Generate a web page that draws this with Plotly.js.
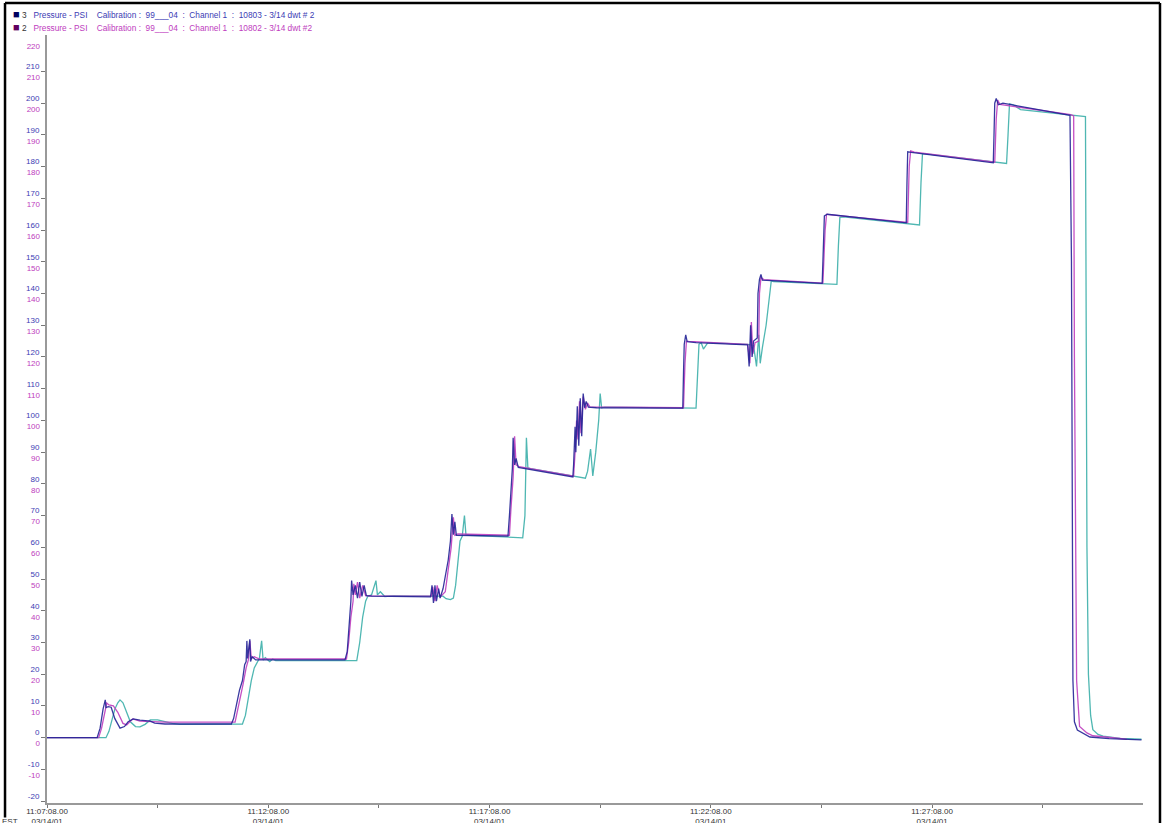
<!DOCTYPE html>
<html><head><meta charset="utf-8">
<script src="https://cdn.plot.ly/plotly-3.0.1.min.js"></script>
<style>html,body{margin:0;padding:0;background:#fff;overflow:hidden}#chart{width:1162px;height:823px;}</style>
</head><body><div id="chart"></div>
<script>
// elapsed seconds from 11:07:08 on 03/14/01, and pressure (PSI)
const navySec = [0,68,72,76,79,80,83,87,92,99,105,110,117,126,140,146,160,250,253,257,261,265,268,270,271,272,274,275,276,278,283,404,407,410,412,413,415,418,421,424,427,430,433,440,520,522,524,526,528,531,533,537,540,544,547,549,551,553,555,625,627,629,631,632,634,636,639,713,714,716,717,719,721,723,725,727,729,731,734,745,862,863,864,866,868,880,950,952,954,956,958,963,964,966,968,970,1051,1052,1054,1058,1165,1166,1167,1172,1283,1284,1285,1287,1290,1296,1387,1389,1390,1391,1393,1397,1414,1440,1484];
const navyVal = [0,0,3,9,11.9,9.5,9.8,9.6,6,3,3.5,5,5.9,5.5,5.2,4.6,4.3,4.3,6,11,15,18,23,24,30.5,25,28,31,24,25.5,24.5,24.5,27,36,43,49.5,45,48,44,49,44.5,48,44.8,44.6,44.4,48,42.5,48,43,47,44,47,51,56,62,70.5,64,68,63.8,63.5,70,78,85,94.5,86,88,85.2,82.2,86,98,90,104.5,92,107,95,108.5,104,106,104.2,104,103.9,115,124,127,124.8,124.5,123.8,117,130,120,125,126,140,144.5,146,144.2,143.2,150,164.5,165,162.3,175,184.7,184.5,181.2,190,200,201.5,199.5,200,196.2,150,60,18,5,2.4,0.2,-0.3,-0.7];

const magentaSec = [0,70,74,78,81,84,90,96,103,108,116,126,140,160,255,258,262,266,270,273,275,277,281,288,406,409,412,415,416,418,421,424,428,432,440,521,523,526,529,533,540,544,548,551,553,557,627,629,632,634,636,640,714,716,718,720,722,724,727,730,733,736,863,865,867,870,950,953,955,957,960,965,966,968,972,1052,1055,1057,1060,1167,1169,1171,1176,1285,1287,1289,1292,1388,1392,1393,1395,1396,1400,1410,1418,1440,1464];
const magentaVal = [0,0,3,8,10.9,10.3,10,8,4.5,4,5.9,5.2,5,4.9,4.9,8,12,17,22,24.5,30.5,25,25.5,24.8,24.8,30,38,43,48.5,45,49,44,48,44.8,44.7,44.6,47.5,43,48,44.3,46,54,60,69.5,63.8,64.2,63.8,72,82,95,86,85.4,82.4,90,100,94,106,96,107.5,103.5,105.5,104.3,104,118,125,124.9,124,118,131,121,124.5,125,140,145,144.4,143.3,160,165,164.9,162.4,180,185,184.6,181.4,195,201,199.6,196.4,196,120,40,18,3.5,1.5,0.6,0,-0.5];

const tealSec = [0,80,84,88,92,96,99,103,108,113,120,126,133,140,150,160,170,180,265,269,273,277,281,285,288,291,293,296,302,306,310,420,424,428,432,435,440,446,448,452,458,470,537,541,547,551,554,557,560,563,566,568,572,645,648,650,652,656,730,733,737,740,744,748,750,752,756,880,882,884,887,890,896,950,958,962,965,967,970,975,978,982,985,1071,1073,1075,1080,1183,1185,1187,1192,1301,1303,1305,1310,1320,1408,1409,1410,1412,1415,1418,1425,1432,1455,1484];
const tealVal = [0,0,2,6,9,11,11.9,11,8,5,3.5,3.4,4.2,5.6,5.6,5,4.5,4.2,4.3,7,13,18,22,24,25,30.5,24.5,25.2,24,24.8,24.3,24.3,30,38,43,44.6,45,49.5,45,46,44.5,44.7,44.6,43.8,43.5,44,48,55,62,63.5,70,64,63.8,63,70,94.5,85,84.8,81.8,84,91,82.5,90,100,108.5,104,104.2,103.9,112,124,124.5,122.5,124.5,124,123.6,117,127,118,123,130,136,144,143.8,142.9,155,164,164.2,161.6,175,184,184,181,190,199.8,199.5,198,195.8,150,60,20,7,2.5,1,0.5,-0.2,-0.5];

const xTickSec = [0,150,300,450,600,750,900,1050,1200,1350];
const xTickText = ['11:07:08.00<br>03/14/01','','11:12:08.00<br>03/14/01','','11:17:08.00<br>03/14/01','','11:22:08.00<br>03/14/01','','11:27:08.00<br>03/14/01',''];
const blueTicks = [-20,-10,0,10,20,30,40,50,60,70,80,90,100,110,120,130,140,150,160,170,180,190,200,210];
const magentaTicks = [-10,0,10,20,30,40,50,60,70,80,90,100,110,120,130,140,150,160,170,180,190,200,210,220];
const legendNames = ['3','2'];
const legendTexts = ['Pressure - PSI    Calibration :  99___04  :  Channel 1  :  10803 - 3/14 dwt # 2','Pressure - PSI    Calibration :  99___04  :  Channel 1  :  10802 - 3/14 dwt #2'];

const base = Date.UTC(2001,2,14,11,7,8);
function t(s){return new Date(base + s*1000).toISOString().replace('T',' ').replace('Z','');}
const nb = s => s.replace(/ /g,'\u00a0');

const NAVY='rgb(35,35,150)', MAG='rgb(190,60,190)', TEAL='rgb(60,175,170)';
const traces = [
  {x: tealSec.map(t), y: tealVal, mode:'lines', line:{color:TEAL,width:1.3}, opacity:0.9, hoverinfo:'skip', showlegend:false},
  {x: magentaSec.map(t), y: magentaVal, mode:'lines', line:{color:MAG,width:1.3}, opacity:0.9, hoverinfo:'skip', showlegend:false},
  {x: navySec.map(t), y: navyVal, mode:'lines', line:{color:NAVY,width:1.3}, opacity:0.9, hoverinfo:'skip', showlegend:false},
  {x: [t(0)], y:[0], yaxis:'y2', mode:'markers', marker:{opacity:0}, hoverinfo:'skip', showlegend:false}
];
const yr = [-20.6, 221.5];
const frame = {color:'#000', width:2.5};
const layout = {
  width:1162, height:823, paper_bgcolor:'#fff', plot_bgcolor:'#fff',
  margin:{l:47, r:19, t:35, b:20},
  font:{family:'Liberation Sans, Arial, sans-serif', size:8, color:'#333'},
  xaxis:{type:'date', range:[t(0), t(1486)], tickmode:'array', tickvals:xTickSec.map(t), ticktext:xTickText,
    showgrid:false, zeroline:false, showline:true, linecolor:'#999', linewidth:2, ticks:'outside', ticklen:3, tickcolor:'#777',
    tickfont:{size:8, color:'#333'}, ticklabelstandoff:-4},
  yaxis:{range:yr, tickmode:'array', tickvals:blueTicks, ticktext:blueTicks.map(String), showgrid:false, zeroline:false,
    showline:true, linecolor:'#999', linewidth:2, ticks:'outside', ticklen:4, tickcolor:'#777',
    tickfont:{size:8, color:'rgb(60,60,180)'}, ticklabelshift:-5},
  yaxis2:{range:yr, overlaying:'y', side:'left', tickmode:'array', tickvals:magentaTicks, ticktext:magentaTicks.map(String),
    showgrid:false, zeroline:false, showline:false, ticks:'', tickfont:{size:8, color:'rgb(190,60,190)'}, ticklabelshift:6, ticklabelstandoff:6},
  shapes:[
    {type:'line', xref:'paper', yref:'paper', x0:-0.0383, x1:-0.0383, y0:-0.019, y1:1.0417, line:frame},
    {type:'line', xref:'paper', yref:'paper', x0:-0.0383, x1:1.0155, y0:1.0417, y1:1.0417, line:frame},
    {type:'line', xref:'paper', yref:'paper', x0:1.0155, x1:1.0155, y0:-0.05, y1:1.0417, line:frame}
  ],
  annotations:[
    {xref:'paper', yref:'paper', x:-0.033, y:1.0276, xanchor:'left', yanchor:'middle', showarrow:false,
     text:'<span style="color:#000060;font-size:11px">■</span>\u00a0'+legendNames[0]+'\u00a0\u00a0\u00a0<span style="color:rgb(60,60,180)">'+nb(legendTexts[0])+'</span>', font:{size:8.3, color:'#333'}},
    {xref:'paper', yref:'paper', x:-0.033, y:1.0107, xanchor:'left', yanchor:'middle', showarrow:false,
     text:'<span style="color:#600060;font-size:11px">■</span>\u00a0'+legendNames[1]+'\u00a0\u00a0\u00a0<span style="color:rgb(190,60,190)">'+nb(legendTexts[1])+'</span>', font:{size:8.3, color:'#333'}},
    {xref:'paper', yref:'paper', x:-0.0425, y:-0.0235, xanchor:'left', yanchor:'middle', showarrow:false, text:'EST', font:{size:8, color:'#333'}}
  ]
};
Plotly.newPlot('chart', traces, layout, {displayModeBar:false, staticPlot:true});
</script></body></html>
